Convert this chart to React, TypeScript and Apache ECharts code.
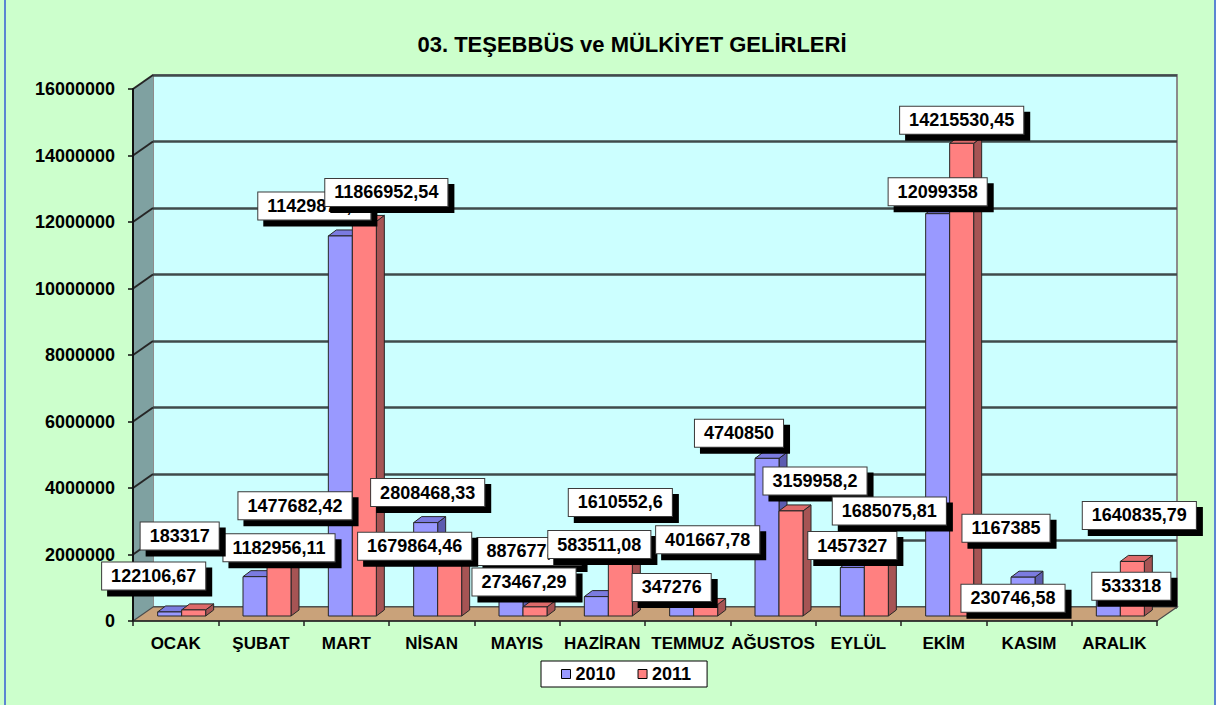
import React, { useEffect, useRef } from 'react';
import * as echarts from 'echarts';

const TITLE = '03. TEŞEBBÜS ve MÜLKİYET GELİRLERİ';
const MONTHS = ['OCAK', 'ŞUBAT', 'MART', 'NİSAN', 'MAYIS', 'HAZİRAN', 'TEMMUZ', 'AĞUSTOS', 'EYLÜL', 'EKİM', 'KASIM', 'ARALIK'];
const SERIES_NAMES = ['2010', '2011'];
const VALUES_2010 = [122106.67, 1182956.11, 11429874.3, 2808468.33, 887677.42, 583511.08, 401667.78, 4740850, 1457327, 12099358, 1167385, 533318];
const VALUES_2011 = [183317, 1477682.42, 11866952.54, 1679864.46, 273467.29, 1610552.6, 347276, 3159958.2, 1685075.81, 14215530.45, 230746.58, 1640835.79];
const Y_TICKS = [0, 2000000, 4000000, 6000000, 8000000, 10000000, 12000000, 14000000, 16000000];

// label box placements (dragged labels), relative to the value point on the front plane
const LABEL_OFFSETS_2010 = [[-22, -41], [18, -34], [-32, -35], [-4, -35], [12, -40], [-3, -57], [20, -68], [-34, -30], [-6, -27], [-6, -27], [-23, -54], [17, -17]];
const LABEL_OFFSETS_2011 = [[4, -79], [34, -66], [40, -34], [-17, -19], [7, -30], [18, -65], [-16, -22], [42, -35], [31, -54], [18, -28], [-16, -15], [25, -51]];

const FONT = '"Liberation Sans", Arial, Helvetica, sans-serif';
const Y_MIN = Y_TICKS[0];
const Y_MAX = Y_TICKS[Y_TICKS.length - 1];
const Y_STEP = Y_TICKS[1] - Y_TICKS[0];

const WALL_DX = 20;
const WALL_DY = -14;
const BAR_SHIFT_X = 6;
const BAR_SHIFT_Y = -5;
const BAR_W = 24;
const BAR_DX = 8;
const BAR_DY = -6;

const BAR_COLORS = [
  { front: '#9999ff', top: '#7b7be0', side: '#5c5cb0' },
  { front: '#ff8080', top: '#dd6a6a', side: '#a65454' },
];

const fmt = (v: number) => String(v).replace('.', ',');

function backgroundRender(params: any, api: any) {
  const v = api.value(1) as number;
  const p = api.coord([0, v]);
  const band = api.size([1, 0])[0];
  const x0 = p[0] - band / 2;
  const children: any[] = [];
  if (params.dataIndex === 0) {
    const top = api.coord([0, Y_MAX]);
    const xEnd = api.coord([MONTHS.length - 1, 0])[0] + band / 2;
    children.push({
      type: 'polygon',
      shape: { points: [[x0, p[1]], [x0, top[1]], [x0 + WALL_DX, top[1] + WALL_DY], [x0 + WALL_DX, p[1] + WALL_DY]] },
      style: { fill: '#7fa1a1', stroke: 'none' },
    });
    children.push({
      type: 'polygon',
      shape: { points: [[x0, p[1]], [x0 + WALL_DX, p[1] + WALL_DY], [xEnd + WALL_DX, p[1] + WALL_DY], [xEnd, p[1]]] },
      style: { fill: '#c9a27a', stroke: '#4a4a4a', lineWidth: 1.2 },
    });
  } else {
    children.push({
      type: 'line',
      shape: { x1: x0, y1: p[1], x2: x0 + WALL_DX, y2: p[1] + WALL_DY },
      style: { stroke: '#262626', lineWidth: 2 },
    });
  }
  return { type: 'group', children };
}

function makeBarRender(k: number) {
  const c = BAR_COLORS[k];
  return (params: any, api: any) => {
    const i = api.value(0);
    const v = api.value(1);
    const top = api.coord([i, v]);
    const base = api.coord([i, 0]);
    const xL = top[0] + BAR_SHIFT_X + (k === 0 ? -BAR_W : 0);
    const xR = xL + BAR_W;
    const yT = top[1] + BAR_SHIFT_Y;
    const yB = base[1] + BAR_SHIFT_Y;
    const stroke = { stroke: '#262626', lineWidth: 1 };
    return {
      type: 'group',
      children: [
        {
          type: 'polygon',
          shape: { points: [[xR, yT], [xR + BAR_DX, yT + BAR_DY], [xR + BAR_DX, yB + BAR_DY], [xR, yB]] },
          style: { fill: c.side, ...stroke },
        },
        {
          type: 'polygon',
          shape: { points: [[xL, yT], [xL + BAR_DX, yT + BAR_DY], [xR + BAR_DX, yT + BAR_DY], [xR, yT]] },
          style: { fill: c.top, ...stroke },
        },
        {
          type: 'rect',
          shape: { x: xL, y: yT, width: BAR_W, height: yB - yT },
          style: { fill: c.front, ...stroke },
        },
      ],
    };
  };
}

function makeLabelRender(offsets: number[][]) {
  return (params: any, api: any) => {
    const i = api.value(0);
    const v = api.value(1);
    const p = api.coord([i, v]);
    const off = offsets[i];
    return {
      type: 'text',
      x: p[0] + off[0],
      y: p[1] + off[1],
      style: {
        text: fmt(v),
        align: 'center',
        verticalAlign: 'middle',
        fill: '#000',
        fontSize: 18,
        fontWeight: 'bold',
        fontFamily: FONT,
        backgroundColor: '#ffffff',
        borderColor: '#3a3a3a',
        borderWidth: 1,
        padding: [5, 9, 4, 9],
        shadowColor: '#000000',
        shadowBlur: 0,
        shadowOffsetX: 6,
        shadowOffsetY: 6,
      },
    };
  };
}

export default function App() {
  const ref = useRef<HTMLDivElement>(null);

  useEffect(() => {
    const chart = echarts.init(ref.current!, null, { renderer: 'svg' });
    const barData = (vals: number[]) => vals.map((v, i) => [i, v]);
    const option: any = {
      animation: false,
      backgroundColor: '#ccffcc',
      graphic: [
        {
          type: 'text',
          x: 632,
          y: 44,
          z: 100,
          style: {
            text: TITLE,
            align: 'center',
            verticalAlign: 'middle',
            fill: '#000',
            fontSize: 22,
            fontWeight: 'bold',
            fontFamily: FONT,
          },
        },
        {
          type: 'rect',
          z: 100,
          shape: { x: 5, y: -5, width: 1210, height: 720 },
          style: { fill: 'none', stroke: '#5b85d2', lineWidth: 2 },
        },
      ],
      legend: {
        data: SERIES_NAMES,
        left: 541,
        top: 661,
        orient: 'horizontal',
        backgroundColor: '#ffffff',
        borderColor: '#000000',
        borderWidth: 1,
        padding: [4, 16, 4, 20],
        itemGap: 22,
        itemWidth: 9,
        itemHeight: 9,
        icon: 'rect',
        itemStyle: { borderColor: '#000', borderWidth: 1 },
        textStyle: { fontSize: 18, fontWeight: 'bold', fontFamily: FONT, color: '#000' },
      },
      grid: [
        { left: 133, top: 89, width: 1024, height: 532, containLabel: false },
        {
          left: 153, top: 75, width: 1024, height: 532, containLabel: false,
          show: true, backgroundColor: '#ccffff', borderColor: '#8c8c8c', borderWidth: 2,
        },
      ],
      xAxis: [
        {
          type: 'category',
          gridIndex: 0,
          data: MONTHS,
          z: 3,
          axisLine: { show: true, lineStyle: { color: '#222', width: 1.5 } },
          axisTick: { show: true, length: 5, inside: false, alignWithLabel: false, lineStyle: { color: '#222', width: 1.5 } },
          axisLabel: { interval: 0, margin: 14, fontSize: 17, fontWeight: 'bold', fontFamily: FONT, color: '#000' },
          splitLine: { show: false },
        },
        { type: 'category', gridIndex: 1, data: MONTHS, show: false },
      ],
      yAxis: [
        {
          type: 'value',
          gridIndex: 0,
          min: Y_MIN,
          max: Y_MAX,
          interval: Y_STEP,
          z: 3,
          axisLine: { show: true, lineStyle: { color: '#111', width: 2 } },
          axisTick: { show: true, length: 5, inside: false, lineStyle: { color: '#111', width: 1.5 } },
          axisLabel: { margin: 18, fontSize: 18, fontWeight: 'bold', fontFamily: FONT, color: '#000', formatter: (v: number) => String(v) },
          splitLine: { show: false },
        },
        {
          type: 'value',
          gridIndex: 1,
          min: Y_MIN,
          max: Y_MAX,
          interval: Y_STEP,
          axisLine: { show: false },
          axisTick: { show: false },
          axisLabel: { show: false },
          splitLine: { show: true, lineStyle: { color: '#3f4b4b', width: 2.5 } },
        },
      ],
      series: [
        {
          type: 'custom',
          name: 'walls',
          xAxisIndex: 0,
          yAxisIndex: 0,
          z: 1,
          silent: true,
          renderItem: backgroundRender,
          data: Y_TICKS.map((t) => [0, t]),
        },
        {
          type: 'custom',
          name: SERIES_NAMES[0],
          xAxisIndex: 0,
          yAxisIndex: 0,
          z: 5,
          itemStyle: { color: BAR_COLORS[0].front, borderColor: '#000', borderWidth: 1 },
          renderItem: makeBarRender(0),
          data: barData(VALUES_2010),
        },
        {
          type: 'custom',
          name: SERIES_NAMES[1],
          xAxisIndex: 0,
          yAxisIndex: 0,
          z: 5,
          itemStyle: { color: BAR_COLORS[1].front, borderColor: '#000', borderWidth: 1 },
          renderItem: makeBarRender(1),
          data: barData(VALUES_2011),
        },
        {
          type: 'custom',
          name: 'labels2010',
          xAxisIndex: 0,
          yAxisIndex: 0,
          z: 10,
          silent: true,
          renderItem: makeLabelRender(LABEL_OFFSETS_2010),
          data: barData(VALUES_2010),
        },
        {
          type: 'custom',
          name: 'labels2011',
          xAxisIndex: 0,
          yAxisIndex: 0,
          z: 11,
          silent: true,
          renderItem: makeLabelRender(LABEL_OFFSETS_2011),
          data: barData(VALUES_2011),
        },
      ],
    };
    chart.setOption(option);
    return () => chart.dispose();
  }, []);

  return <div ref={ref} style={{ position: 'fixed', left: 0, top: 0, width: 1216, height: 705 }} />;
}
